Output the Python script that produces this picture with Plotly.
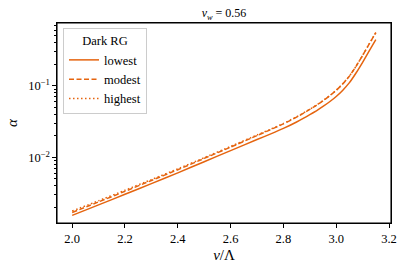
import plotly.graph_objects as go

v_over_lambda = [2.0, 2.1, 2.2, 2.3, 2.4, 2.5, 2.6, 2.7, 2.75, 2.8, 2.85, 2.875, 2.9, 2.925,
                 2.95, 2.975, 3.0, 3.025, 3.05, 3.075, 3.1, 3.125, 3.15]
alpha_lowest = [0.001549, 0.002173, 0.003048, 0.004305, 0.006081, 0.008710, 0.01245, 0.01778,
                0.02118, 0.02541, 0.03126, 0.03508, 0.03954, 0.04487, 0.05152, 0.05998,
                0.07112, 0.08710, 0.1109, 0.1514, 0.2138, 0.3076, 0.4416]
alpha_modest = [0.001698, 0.002388, 0.003357, 0.004753, 0.006730, 0.009683, 0.01393, 0.02018,
                0.02427, 0.02938, 0.03648, 0.04121, 0.04677, 0.05346, 0.06180, 0.07244,
                0.08650, 0.1067, 0.1368, 0.1875, 0.2661, 0.3855, 0.5559]
alpha_highest = [0.001778, 0.002483, 0.003475, 0.004898, 0.006918, 0.009908, 0.01422, 0.02056,
                 0.02466, 0.02979, 0.03698, 0.04169, 0.04721, 0.05383, 0.06223, 0.07278,
                 0.08690, 0.1072, 0.1371, 0.1879, 0.2667, 0.3855, 0.5559]

series = [("lowest", alpha_lowest, "solid"),
          ("modest", alpha_modest, "5px,2.5px"),
          ("highest", alpha_highest, "1.5px,2.5px")]

x_ticks = [2.0, 2.2, 2.4, 2.6, 2.8, 3.0, 3.2]
y_major = [0.01, 0.1]
y_minor = [0.002, 0.003, 0.004, 0.005, 0.006, 0.007, 0.008, 0.009,
           0.02, 0.03, 0.04, 0.05, 0.06, 0.07, 0.08, 0.09,
           0.2, 0.3, 0.4, 0.5, 0.6, 0.7]

color = "#e5640f"
axis_color = "black"
text_color = "black"
font_family = "Liberation Serif, DejaVu Serif, serif"

fig = go.Figure()
for name, vals, dash in series:
    fig.add_trace(go.Scatter(x=v_over_lambda, y=vals, mode="lines", name=name,
                             line=dict(color=color, width=1.5, dash=dash, shape="spline", smoothing=0.4)))

fig.update_layout(
    template="none",
    width=407, height=271,
    margin=dict(l=57, r=16, t=23, b=48),
    paper_bgcolor="white", plot_bgcolor="white",
    font=dict(family=font_family, size=12, color=text_color),
    title=dict(text="<i>v</i><sub><i>w</i></sub> = 0.56", x=224 / 407, xanchor="center",
               y=1 - 13 / 271, yanchor="middle", font=dict(size=12, color=text_color)),
    showlegend=True,
    legend=dict(x=0.018, y=0.975, xanchor="left", yanchor="top",
                bgcolor="rgba(255,255,255,0.8)", bordercolor="#cccccc", borderwidth=1,
                font=dict(size=12.5, color=text_color),
                title=dict(text="Dark RG", side="top center", font=dict(size=12.5, color=text_color)),
                tracegroupgap=0, itemwidth=30),
    shapes=[dict(type="rect", xref="paper", yref="paper", x0=0, y0=0, x1=1, y1=1,
                 line=dict(color=axis_color, width=1.1), fillcolor="rgba(0,0,0,0)", layer="above")],
)
fig.update_xaxes(range=[1.9425, 3.2075], tickvals=x_ticks,
                 ticktext=[f"{v:.1f}" for v in x_ticks],
                 tickfont=dict(size=12.5, color=text_color),
                 ticks="outside", ticklen=3.5, tickwidth=1, tickcolor=axis_color,
                 showgrid=False, zeroline=False,
                 showline=True, linecolor=axis_color, linewidth=1.1, mirror=True,
                 title=dict(text="<i>v</i>/Λ", font=dict(size=15, color=text_color), standoff=4))
fig.update_yaxes(type="log", range=[-2.917, -0.121], tickvals=y_major,
                 ticktext=["10<sup>−2</sup>", "10<sup>−1</sup>"],
                 tickfont=dict(size=12.5, color=text_color),
                 ticks="outside", ticklen=3.5, tickwidth=1, tickcolor=axis_color,
                 showgrid=False, zeroline=False,
                 showline=True, linecolor=axis_color, linewidth=1.1, mirror=True,
                 minor=dict(ticks="outside", ticklen=2, tickwidth=0.8, tickcolor=axis_color,
                            tickvals=y_minor, showgrid=False),
                 title=dict(text="<i>α</i>", font=dict(size=15, color=text_color), standoff=6))

fig.write_html("out.html", config={"displayModeBar": False},
               post_script="document.body.style.margin='0';document.body.style.padding='0';")
